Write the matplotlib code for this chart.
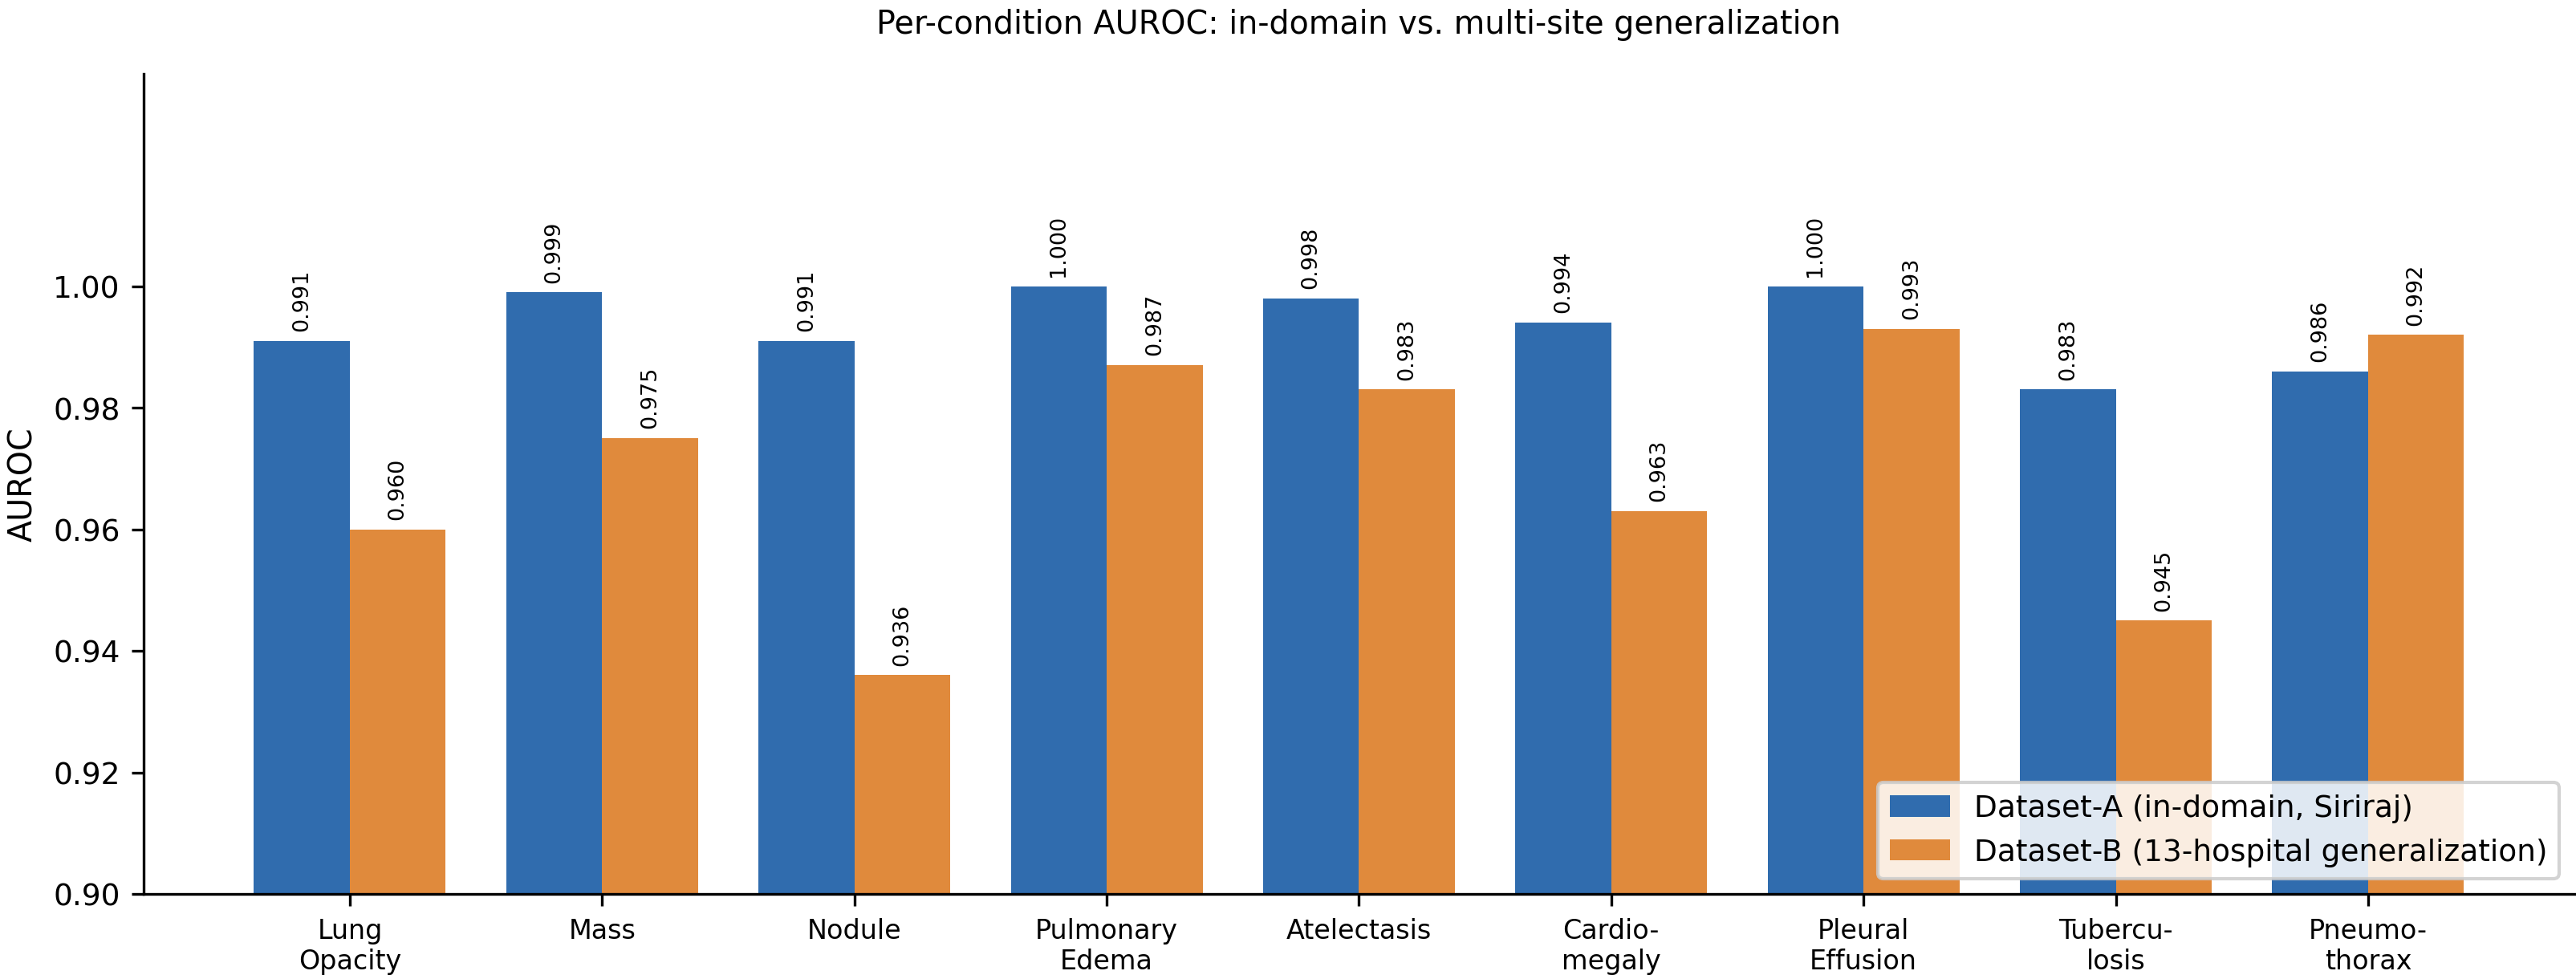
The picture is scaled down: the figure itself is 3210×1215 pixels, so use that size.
import numpy as np
import matplotlib
matplotlib.use("Agg")
import matplotlib.pyplot as plt

conditions = ["Lung\nOpacity", "Mass", "Nodule", "Pulmonary\nEdema", "Atelectasis",
              "Cardio-\nmegaly", "Pleural\nEffusion", "Tubercu-\nlosis", "Pneumo-\nthorax"]
auroc_a = [0.991, 0.999, 0.991, 1.000, 0.998, 0.994, 1.000, 0.983, 0.986]
auroc_b = [0.960, 0.975, 0.936, 0.987, 0.983, 0.963, 0.993, 0.945, 0.992]
label_a = "Dataset-A (in-domain, Siriraj)"
label_b = "Dataset-B (13-hospital generalization)"

fig, ax = plt.subplots(figsize=(10.7, 4.053), dpi=300)
fig.subplots_adjust(left=0.0557, right=0.9994, bottom=0.083, top=0.924)

x = np.arange(len(conditions))
w = 0.38
bars_a = ax.bar(x - w / 2, auroc_a, w, color="#306cae", label=label_a)
bars_b = ax.bar(x + w / 2, auroc_b, w, color="#e08a3c", label=label_b)

for bars, vals in ((bars_a, auroc_a), (bars_b, auroc_b)):
    for b, v in zip(bars, vals):
        ax.annotate(f"{v:.3f}", (b.get_x() + b.get_width() / 2, v),
                    xytext=(0, 3), textcoords="offset points",
                    ha="center", va="bottom", rotation=90, fontsize=6.5)

ax.set_ylim(0.90, 1.035)
ax.set_yticks([0.90, 0.92, 0.94, 0.96, 0.98, 1.00])
ax.set_xticks(x)
ax.set_xticklabels(conditions, fontsize=8)
ax.tick_params(axis="y", labelsize=9)
ax.set_ylabel("AUROC", fontsize=9.5)
ax.set_title("Per-condition AUROC: in-domain vs. multi-site generalization", fontsize=9.5, pad=12)
ax.spines["top"].set_visible(False)
ax.spines["right"].set_visible(False)
ax.legend(loc="lower right", fontsize=9, framealpha=0.85)

fig.savefig("out.png", dpi=300)
